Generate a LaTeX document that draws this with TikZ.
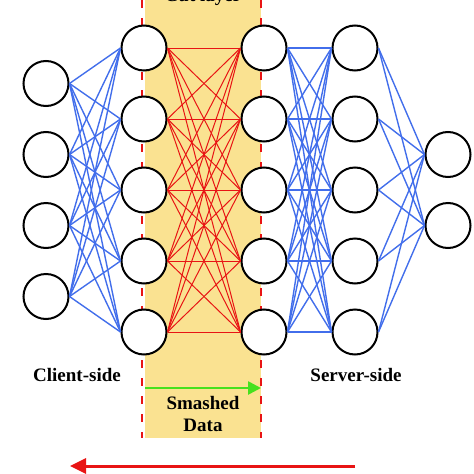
\documentclass[tikz,border=0pt]{standalone}
\usepackage{fontspec}
\setmainfont{Liberation Serif}
\usepackage{xcolor}
\usetikzlibrary{arrows.meta}
\definecolor{cutyellow}{RGB}{250,226,145}
\definecolor{netblue}{RGB}{66,110,235}
\definecolor{netred}{RGB}{232,20,20}
\definecolor{fwdgreen}{RGB}{70,225,30}

\begin{document}
\begin{tikzpicture}[x=1pt, y=-1pt,
	neuron/.style={circle, draw=black, line width=2pt, fill=white, minimum size=45pt, inner sep=0pt},
	blueedge/.style={netblue, line width=1.4pt},
	rededge/.style={netred, line width=1pt},
	cutline/.style={netred, line width=2.6pt, dash pattern=on 8pt off 10pt},
	lbl/.style={font=\fontsize{19}{22}\selectfont\bfseries, align=center}]
	\useasboundingbox (0,0) rectangle (474,474);
	% cut layer band
	\fill[cutyellow] (145,-10) rectangle (261,438);
	\coordinate (cutLtop) at (142,0);
	\coordinate (cutLbot) at (142,438);
	\coordinate (cutRtop) at (261,0);
	\coordinate (cutRbot) at (261,438);
	\draw[cutline] (cutLtop) -- (cutLbot);
	\draw[cutline] (cutRtop) -- (cutRbot);
	\node[lbl, anchor=base] (title) at (203,1) {Cut layer};
	% neurons
	\foreach \i/\y in {1/83.5, 2/154.5, 3/225.5, 4/296.5}
		\node[neuron] (in\i) at (46,\y) {};
	\foreach \i/\y in {1/48, 2/119, 3/190, 4/261, 5/332} {
		\node[neuron] (cl\i) at (144,\y) {};
		\node[neuron] (sv\i) at (264,\y) {};
		\node[neuron] (hd\i) at (355,\y) {};
	}
	\foreach \i/\y in {1/154.5, 2/225.5}
		\node[neuron] (out\i) at (448,\y) {};
	% connections
	\foreach \a in {1,...,4}
		\foreach \b in {1,...,5}
			\draw[blueedge] (in\a.east) -- (cl\b.west);
	\foreach \a in {1,...,5}
		\foreach \b in {1,...,5}
			\draw[rededge] (cl\a.east) -- (sv\b.west);
	\foreach \a in {1,...,5}
		\foreach \b in {1,...,5}
			\draw[blueedge] (sv\a.east) -- (hd\b.west);
	\foreach \a in {1,...,5}
		\foreach \b in {1,2}
			\draw[blueedge] (hd\a.east) -- (out\b.west);
	% labels and arrows
	\node[lbl] (client) at (77,375) {Client-side};
	\node[lbl] (server) at (356,375) {Server-side};
	\coordinate (fwdA) at (145,388);
	\coordinate (fwdB) at (261,388);
	\draw[fwdgreen, line width=2.6pt, -{Triangle[length=13pt, width=13pt]}] (fwdA) -- (fwdB);
	\node[lbl, text width=110pt] (smashed) at (203,414) {Smashed\\Data};
	\coordinate (backA) at (355,466);
	\coordinate (backB) at (70,466);
	\draw[netred, line width=3pt, -{Triangle[length=16pt, width=15pt]}] (backA) -- (backB);
\end{tikzpicture}
\end{document}
